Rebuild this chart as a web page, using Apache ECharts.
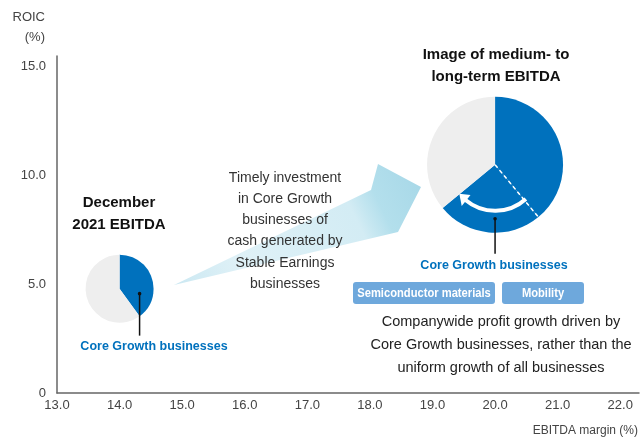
<!DOCTYPE html>
<html>
<head>
<meta charset="utf-8">
<script src="https://cdn.jsdelivr.net/npm/echarts@6/dist/echarts.min.js"></script>
<style>
  html, body { margin: 0; padding: 0; background: #fff; }
  #main { width: 642px; height: 441px; }
</style>
</head>
<body>
<div id="main"></div>
<script>
// axis ranges / ticks
var xMin = 13, xMax = 22.3, xStep = 1
var yMin = 0, yMax = 15.5, yStep = 5

// pie positions (EBITDA margin %, ROIC %)
var pieNames = ['December 2021 EBITDA', 'Image of medium- to long-term EBITDA']
var pieX = [14.0, 20.0]
var pieY = [4.8, 10.5]

// shares of each pie
var nowShare = [40, 60]            // core growth, others
var futureShare = [39, 25, 36]     // core growth (base), core growth (added), others

var font = '"Liberation Sans", Arial, sans-serif'
var blue = '#0071bd'
var grey = '#eeeeee'

var chart = echarts.init(document.getElementById('main'))

var base = {
  animation: false,
  grid: { left: 57, right: 0, top: 56, bottom: 48 },
  xAxis: {
    type: 'value', min: xMin, max: xMax, interval: xStep,
    splitLine: { show: false },
    axisTick: { show: false },
    axisLine: { lineStyle: { color: '#666', width: 1.5 } },
    axisLabel: {
      margin: 6, color: '#444', fontSize: 13, fontFamily: font,
      formatter: function (v) { return Number.isInteger(v) ? v.toFixed(1) : '' }
    }
  },
  yAxis: {
    type: 'value', min: yMin, max: yMax, interval: yStep,
    splitLine: { show: false },
    axisTick: { show: false },
    axisLine: { show: true, lineStyle: { color: '#666', width: 1.5 } },
    axisLabel: {
      margin: 11, color: '#444', fontSize: 13, fontFamily: font, padding: [0, 0, 7, 0],
      formatter: function (v) {
        if (!Number.isInteger(v)) return ''
        return v === 0 ? '0' : v.toFixed(1)
      }
    }
  },
  series: [{
    type: 'scatter', symbolSize: 0, silent: true,
    data: pieX.map(function (x, i) { return [x, pieY[i]] })
  }]
}
chart.setOption(base)

var c1 = chart.convertToPixel({ gridIndex: 0 }, [pieX[0], pieY[0]])
var c2 = chart.convertToPixel({ gridIndex: 0 }, [pieX[1], pieY[1]])
var r1 = 34, r2 = 68

function pt(c, r, deg) {
  var a = deg * Math.PI / 180
  return [c[0] + r * Math.sin(a), c[1] - r * Math.cos(a)]
}

var futTotal = futureShare.reduce(function (a, b) { return a + b }, 0)
var splitDeg = 360 * futureShare[0] / futTotal
var dashEnd = pt(c2, r2, splitDeg)

// curved arrow inside big pie
var arcR = 46
var arcStart = 48, arcEnd = 130   // screen angles (deg, 0 = right, clockwise)
function scr(deg, r) {
  var a = deg * Math.PI / 180
  return [c2[0] + r * Math.cos(a), c2[1] + r * Math.sin(a)]
}
var tip = scr(arcEnd + 11, arcR)
var b1 = scr(arcEnd - 1, arcR + 7)
var b2 = scr(arcEnd - 1, arcR - 7)

function tag(text, x, y) {
  return {
    type: 'text', x: x, y: y, scaleX: 0.86,
    style: { text: text, x: 0, y: 0, align: 'center', verticalAlign: 'middle', font: 'bold 13px ' + font, fill: '#fff' }
  }
}

var graphics = [
  // big light-blue arrow
  {
    type: 'polygon', z: 0,
    shape: { points: [[174, 285], [371, 190], [378, 164], [421, 187], [398, 232]] },
    style: {
      fill: new echarts.graphic.LinearGradient(0, 1, 1, 0, [
        { offset: 0, color: '#cbe8f2' },
        { offset: 0.25, color: '#dff1f7' },
        { offset: 0.7, color: '#d3ecf4' },
        { offset: 0.8, color: '#b3dfec' },
        { offset: 1, color: '#a6d7e7' }
      ])
    }
  },
  // dashed divider
  {
    type: 'line', z: 100,
    shape: { x1: c2[0], y1: c2[1], x2: dashEnd[0], y2: dashEnd[1] },
    style: { stroke: '#fff', lineWidth: 1.5, lineDash: [4, 3] }
  },
  {
    type: 'arc', z: 100,
    shape: { cx: c2[0], cy: c2[1], r: arcR, startAngle: arcStart * Math.PI / 180, endAngle: arcEnd * Math.PI / 180, clockwise: true },
    style: { stroke: '#fff', lineWidth: 4, fill: null }
  },
  {
    type: 'polygon', z: 100,
    shape: { points: [tip, b1, b2] },
    style: { fill: '#fff' }
  },
  // leader lines
  { type: 'line', z: 100, shape: { x1: c1[0] + 20, y1: c1[1] + 5, x2: c1[0] + 20, y2: c1[1] + 47 }, style: { stroke: '#111', lineWidth: 1.5 } },
  { type: 'circle', z: 100, shape: { cx: c1[0] + 20, cy: c1[1] + 5, r: 1.8 }, style: { fill: '#111' } },
  { type: 'line', z: 100, shape: { x1: c2[0], y1: c2[1] + 54, x2: c2[0], y2: c2[1] + 89 }, style: { stroke: '#111', lineWidth: 1.5 } },
  { type: 'circle', z: 100, shape: { cx: c2[0], cy: c2[1] + 54, r: 1.8 }, style: { fill: '#111' } },
  // texts
  { type: 'text', style: { text: 'ROIC\n(%)', x: 45, y: 27, align: 'right', verticalAlign: 'middle', lineHeight: 20, font: '13px ' + font, fill: '#444' } },
  { type: 'text', style: { text: 'EBITDA margin (%)', x: 638, y: 431, align: 'right', verticalAlign: 'middle', font: '12px ' + font, fill: '#444' } },
  { type: 'text', style: { text: 'December\n2021 EBITDA', x: 119, y: 214, align: 'center', verticalAlign: 'middle', lineHeight: 22, font: 'bold 15px ' + font, fill: '#111' } },
  { type: 'text', style: { text: 'Image of medium- to\nlong-term EBITDA', x: 496, y: 66, align: 'center', verticalAlign: 'middle', lineHeight: 22, font: 'bold 15px ' + font, fill: '#111' } },
  { type: 'text', z: 50, style: { text: 'Timely investment\nin Core Growth\nbusinesses of\ncash generated by\nStable Earnings\nbusinesses', x: 285, y: 231, align: 'center', verticalAlign: 'middle', lineHeight: 21.2, font: '14px ' + font, fill: '#333' } },
  { type: 'text', style: { text: 'Core Growth businesses', x: 154, y: 347, align: 'center', verticalAlign: 'middle', font: 'bold 12.5px ' + font, fill: blue } },
  { type: 'text', style: { text: 'Core Growth businesses', x: 494, y: 266, align: 'center', verticalAlign: 'middle', font: 'bold 12.5px ' + font, fill: blue } },
  { type: 'rect', shape: { x: 353, y: 282, width: 142, height: 22, r: 3 }, style: { fill: '#6ea8dc' } },
  { type: 'rect', shape: { x: 502, y: 282, width: 82, height: 22, r: 3 }, style: { fill: '#6ea8dc' } },
  tag('Semiconductor materials', 424, 293),
  tag('Mobility', 543, 293),
  { type: 'text', style: { text: 'Companywide profit growth driven by\nCore Growth businesses, rather than the\nuniform growth of all businesses', x: 501, y: 345, align: 'center', verticalAlign: 'middle', lineHeight: 23, font: '14.5px ' + font, fill: '#222' } }
]

chart.setOption({
  series: [
    base.series[0],
    {
      name: pieNames[0], type: 'pie', center: c1, radius: r1, startAngle: 90, silent: true,
      label: { show: false }, labelLine: { show: false },
      data: [
        { value: nowShare[0], itemStyle: { color: blue } },
        { value: nowShare[1], itemStyle: { color: grey } }
      ]
    },
    {
      name: pieNames[1], type: 'pie', center: c2, radius: r2, startAngle: 90, silent: true,
      label: { show: false }, labelLine: { show: false },
      data: [
        { value: futureShare[0], itemStyle: { color: blue } },
        { value: futureShare[1], itemStyle: { color: blue } },
        { value: futureShare[2], itemStyle: { color: grey } }
      ]
    }
  ],
  graphic: graphics
})
</script>
</body>
</html>
